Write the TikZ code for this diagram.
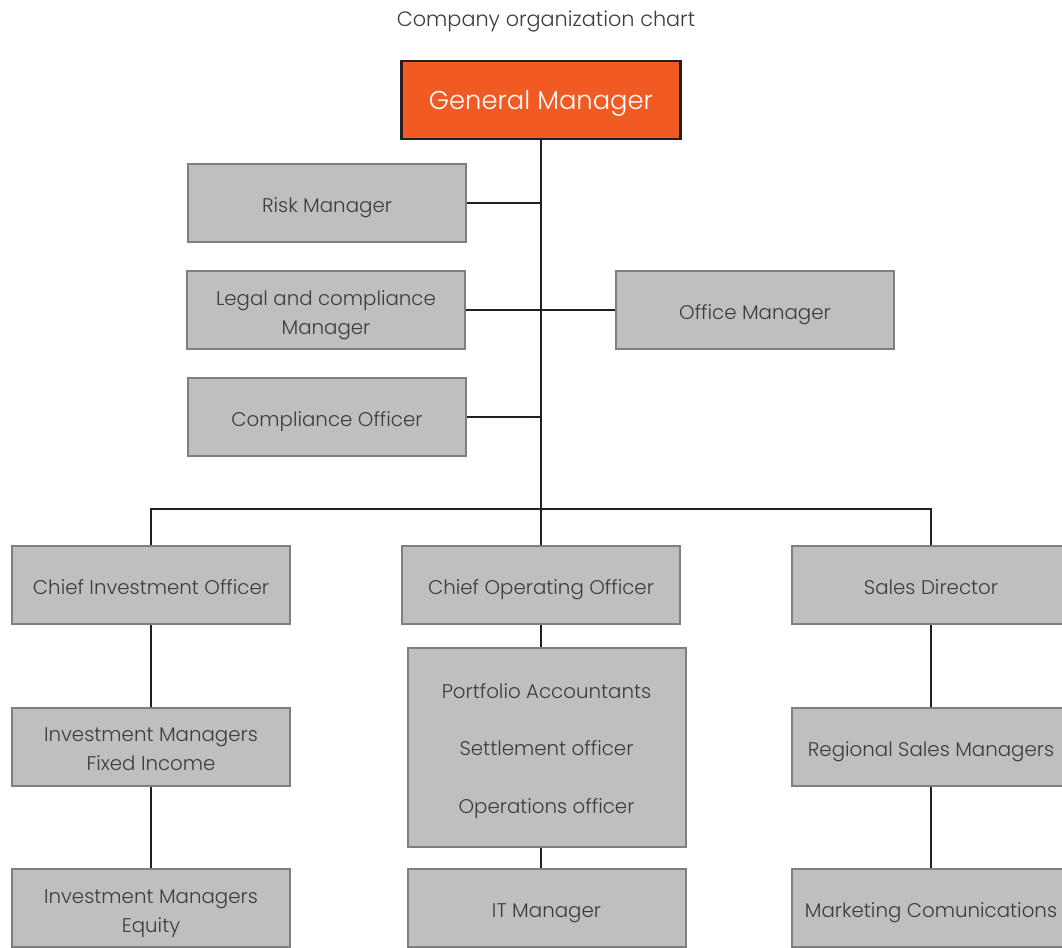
\documentclass[tikz,border=0pt]{standalone}
\usepackage{fontspec}
\setmainfont{Poppins Light}
\definecolor{boxfill}{HTML}{BFBFBF}
\definecolor{boxline}{HTML}{7F7F7F}
\definecolor{gmfill}{HTML}{F15A22}
\definecolor{linec}{HTML}{231F20}
\definecolor{txt}{HTML}{3C3C3C}
\begin{document}
\begin{tikzpicture}[x=1pt,y=-1pt,
  orgbox/.style={draw=boxline,fill=boxfill,line width=2pt,minimum width=278pt,minimum height=78pt,
    inner sep=0pt,align=center,text=txt,font=\fontsize{19.8}{29}\selectfont,
    text height=19pt,text depth=0pt},
  twoline/.style={text height=48pt,text depth=0pt},
  gmbox/.style={draw=linec,fill=gmfill,line width=2.5pt,minimum width=279pt,minimum height=78pt,
    inner sep=0pt,text=white,font=\fontsize{25.8}{30}\selectfont,text height=20pt,text depth=0pt},
  conn/.style={draw=linec,line width=2.5pt}]
\useasboundingbox (0,0) rectangle (1062,947);
\clip (0,0) rectangle (1062,947);
\node[text=txt,font=\fontsize{20.8}{24}\selectfont,text height=14pt,text depth=0pt,inner sep=0pt] (title) at (546,20) {Company organization chart};
\node[gmbox] (gm) at (541,100) {General Manager};
\node[orgbox] (risk) at (327,203) {Risk Manager};
\node[orgbox,twoline] (legal) at (326,310) {Legal and compliance\\Manager};
\node[orgbox] (office) at (755,310) {Office Manager};
\node[orgbox] (comp) at (327,417) {Compliance Officer};
\node[orgbox] (cio) at (151,585) {Chief Investment Officer};
\node[orgbox] (coo) at (541,585) {Chief Operating Officer};
\node[orgbox] (sales) at (931,585) {Sales Director};
\node[orgbox,twoline] (fi) at (151,746.5) {Investment Managers\\Fixed Income};
\node[orgbox,minimum height=199pt,font=\fontsize{19.8}{57.5}\selectfont,text height=132pt,text depth=0pt] (ops) at (546.5,747) {Portfolio Accountants\\Settlement officer\\Operations officer};
\node[orgbox] (rsm) at (931,746.5) {Regional Sales Managers};
\node[orgbox,twoline] (eq) at (151,908) {Investment Managers\\Equity};
\node[orgbox] (it) at (546.5,908) {IT Manager};
\node[orgbox] (mkt) at (931,908) {Marketing Comunications};
\coordinate (bar) at (541,509);
\draw[conn] (gm.south) -- (bar);
\draw[conn] (risk.east) -- (risk.east -| bar);
\draw[conn] (legal.east) -- (office.west);
\draw[conn] (comp.east) -- (comp.east -| bar);
\draw[conn] (cio.north) |- (bar) -| (sales.north);
\draw[conn] (bar) -- (coo.north);
\draw[conn] (cio.south) -- (fi.north);
\draw[conn] (fi.south) -- (eq.north);
\draw[conn] (coo.south) -- (coo.south |- ops.north);
\draw[conn] (ops.south -| coo.south) -- (it.north -| coo.south);
\draw[conn] (sales.south) -- (rsm.north);
\draw[conn] (rsm.south) -- (mkt.north);
\end{tikzpicture}
\end{document}
